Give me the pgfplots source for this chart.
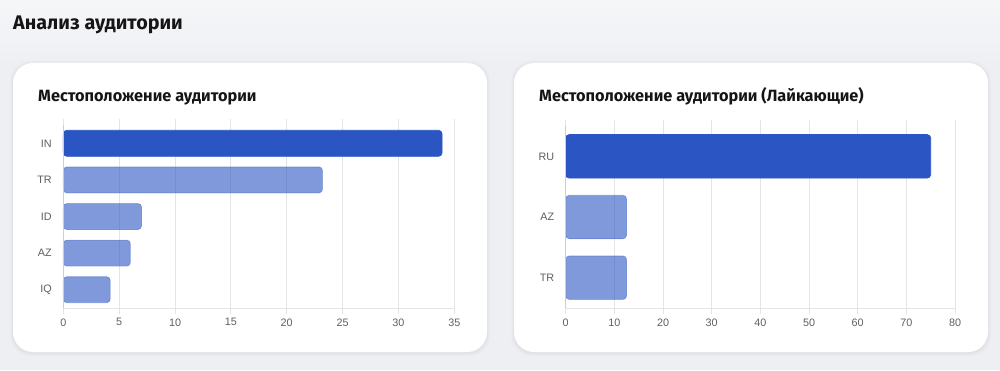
\documentclass[border=0pt]{standalone}
\usepackage{pgfplots}
\pgfplotsset{compat=1.18}
\usepackage{fontspec}
\setmainfont{Liberation Sans}
\newfontfamily\titlefont{Fira Sans}
\definecolor{bg}{HTML}{EEEFF3}
\definecolor{barblue}{HTML}{2A55C2}
\definecolor{gridc}{HTML}{E3E4E8}
\definecolor{axc}{HTML}{CDCED3}
\definecolor{tickc}{HTML}{5F5F5F}
\definecolor{titlec}{HTML}{151515}
\pgfplotsset{
  cardaxis/.style={
    scale only axis,
    xbar, bar shift=0pt,
    axis on top=false,
    xmin=0,
    xmajorgrids,
    major grid style={gridc, line width=0.8pt},
    axis line style={draw=none},
    ytick style={draw=none},
    xtick style={gridc, line width=0.8pt},
    xtick align=outside,
    major tick length=6pt,
    tick label style={font=\fontsize{10.8}{12}\selectfont, text=tickc},
    yticklabel style={xshift=-2pt},
    xticklabel style={yshift=-1pt},
    /pgf/number format/assume math mode=true,
    y dir=reverse,
    clip=false,
    every axis plot/.append style={draw=barblue, line width=0.7pt, rounded corners=3.5pt},
  }
}
\begin{document}
\begin{tikzpicture}[x=1pt,y=1pt]
% background
\fill[bg] (0,0) rectangle (1000,370);
\shade[top color=white!60!bg, bottom color=bg, opacity=0.8] (0,300) rectangle (1000,370);
% card shadows and cards
\foreach \xa/\xb in {13/487, 514/988}{
  \foreach \s/\o in {3/0.03, 2/0.04, 1/0.05}{
    \fill[black!40, opacity=\o, rounded corners=20pt] (\xa-\s,18-\s-1) rectangle (\xb+\s,307+\s-1);
  }
  \fill[white, rounded corners=20pt] (\xa,18) rectangle (\xb,307);
}
% titles
\node[anchor=base west, inner sep=0, text=titlec] at (13,340) {\titlefont\bfseries\fontsize{19.7}{23}\selectfont Анализ аудитории};
\node[anchor=base west, inner sep=0, text=titlec] at (38,268) {\titlefont\bfseries\fontsize{16.3}{19}\selectfont Местоположение аудитории};
\node[anchor=base west, inner sep=0, text=titlec] at (539,268) {\titlefont\bfseries\fontsize{16.3}{19}\selectfont Местоположение аудитории (Лайкающие)};
% left chart
\begin{axis}[cardaxis,
  at={(63.3pt,62pt)}, anchor=south west,
  width=391pt, height=183pt,
  xmax=35, xtick={0,5,...,35},
  ymin=-0.5, ymax=4.5,
  ytick={0,1,2,3,4},
  yticklabels={IN,TR,ID,AZ,IQ},
  bar width=26pt,
]
\addplot[fill=barblue] coordinates {(33.9,0)};
\addplot[fill=barblue, fill opacity=0.6, draw opacity=0.4] coordinates {(23.2,1) (7.0,2) (6.0,3) (4.2,4)};
\draw[axc, line width=0.9pt] (axis cs:0,-0.5) -- (axis cs:0,4.5);
\draw[gridc, line width=0.9pt] (axis cs:0,4.5) -- (axis cs:35,4.5);
\end{axis}
% right chart
\begin{axis}[cardaxis,
  at={(565.7pt,62pt)}, anchor=south west,
  width=389.3pt, height=182pt,
  xmax=80, xtick={0,10,...,80},
  ymin=-0.5, ymax=2.5,
  ytick={0,1,2},
  yticklabels={RU,AZ,TR},
  bar width=43.5pt,
]
\addplot[fill=barblue] coordinates {(75.0,0)};
\addplot[fill=barblue, fill opacity=0.6, draw opacity=0.4] coordinates {(12.5,1) (12.5,2)};
\draw[axc, line width=0.9pt] (axis cs:0,-0.5) -- (axis cs:0,2.5);
\draw[gridc, line width=0.9pt] (axis cs:0,2.5) -- (axis cs:80,2.5);
\end{axis}
\end{tikzpicture}
\end{document}
